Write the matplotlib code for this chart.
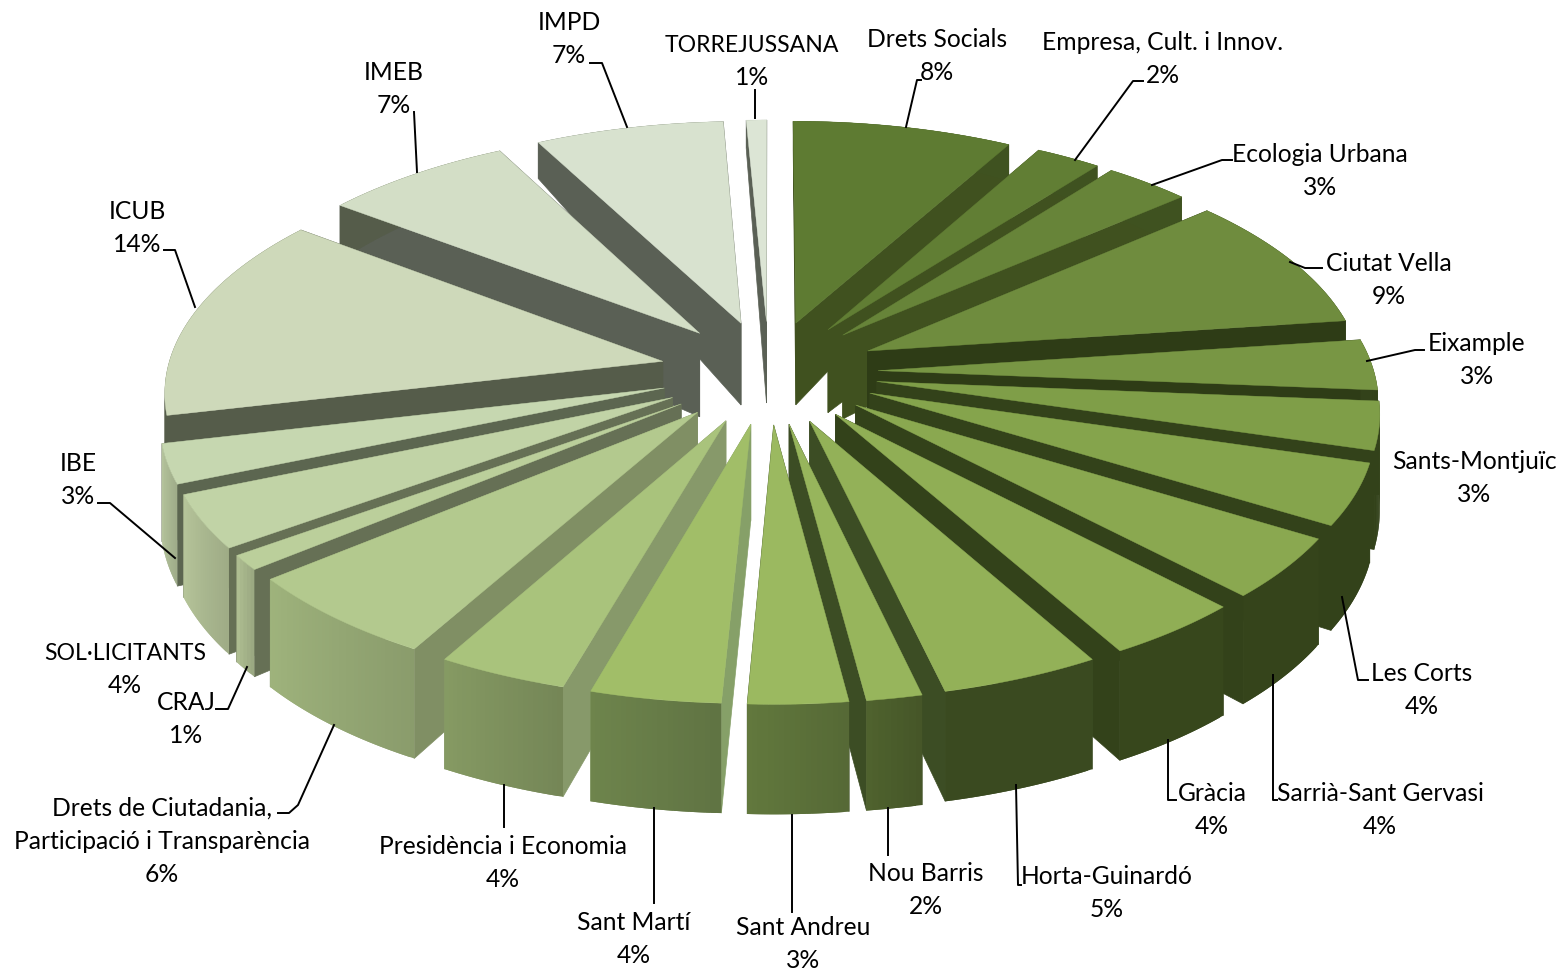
import matplotlib
matplotlib.use("Agg")
import matplotlib.pyplot as plt
import numpy as np
from matplotlib.patches import Polygon

names = ["Drets Socials", "Empresa, Cult. i Innov.", "Ecologia Urbana", "Ciutat Vella", "Eixample",
         "Sants-Montjuïc", "Les Corts", "Sarrià-Sant Gervasi", "Gràcia", "Horta-Guinardó", "Nou Barris",
         "Sant Andreu", "Sant Martí", "Presidència i Economia",
         "Drets de Ciutadania,\nParticipació i Transparència", "CRAJ", "SOL·LICITANTS", "IBE", "ICUB",
         "IMEB", "IMPD", "TORREJUSSANA"]
percent = [8, 2, 3, 9, 3, 3, 4, 4, 4, 5, 2, 3, 4, 4, 6, 1, 4, 3, 14, 7, 7, 1]
# unrounded shares
shares = [8.1, 2.4, 3.16, 9.21, 3.43, 3.25, 4.15, 4.14, 3.96, 4.54, 1.58, 2.83, 3.7, 3.7, 5.92, 1.01,
          3.62, 2.66, 13.94, 7.0, 6.95, 0.75]

top_colors = ["#5e7b32", "#617e34", "#678439", "#6f8c3e", "#789644", "#7f9e48", "#85a44c", "#8aa850",
              "#90ae55", "#93b158", "#97b55c", "#9bb960", "#a1be68", "#a9c37c", "#b3c98e", "#bbcf9b",
              "#c1d3a6", "#c6d7b0", "#ced9ba", "#d3dec6", "#d8e2cf", "#dce5d5"]
outer_colors = ["#3f5220", "#3f5220", "#3f5220", "#2e3c16", "#33421a", "#33421a", "#33421a", "#35441b",
                "#37471c", "#3a4a20", "#4a5c2b", "#5b7039", "#667b47", "#7c8f5c", "#93a673", "#a5b48a",
                "#a9b78f", "#aab893", "#555c4a", "#555c4a", "#5a6055", "#5a6055"]
side_colors = ["#40511f", "#40511f", "#40511f", "#2e3c16", "#2e3c16", "#33421a", "#33421a", "#33421a",
               "#33421a", "#3c4d24", "#3c4d24", "#3c4d24", "#86a068", "#87996a", "#808f64", "#667055",
               "#667055", "#5c6650", "#555c4a", "#5a6055", "#5a6055", "#5a6055"]

# centre of the label and height of its first line
label_pos = [(937, 38), (1163, 41), (1320, 153), (1389, 262), (1477, 342), (1474, 460), (1422, 672), (1380, 792),
             (1212, 792), (1107, 875), (926, 872), (803, 926), (634, 921), (503, 845), (162, 807), (186, 701),
             (125, 651), (78, 462), (137, 210), (394, 71), (569, 21), (752, 43)]
leaders = [[(906, 127), (917, 80), (921, 80)],
           [(1075, 160), (1133, 81), (1143, 81)],
           [(1152, 185), (1222, 160), (1232, 160)],
           [(1290, 262), (1305, 268), (1322, 268)],
           [(1367, 361), (1415, 350), (1424, 350)],
           [],
           [(1342, 597), (1358, 680), (1368, 680)],
           [(1273, 675), (1273, 800), (1277, 800)],
           [(1168, 740), (1168, 800), (1176, 800)],
           [(1016, 785), (1018, 885), (1021, 885)],
           [(888, 808), (888, 855)],
           [(792, 815), (792, 912)],
           [(654, 808), (654, 903)],
           [(504, 785), (504, 827)],
           [(334, 725), (298, 805), (289, 813), (278, 813)],
           [(247, 667), (228, 709), (216, 709)],
           [],
           [(175, 558), (110, 503), (98, 503)],
           [(195, 307), (175, 250), (164, 250)],
           [(417, 172), (414, 112)],
           [(627, 127), (602, 63), (590, 63)],
           [(755, 118), (755, 90)]]

# projection settings, all in pixels of the 1561x972 picture
cx, cy = 769, 372
rx, ry = 496, 235
persp = 0.1127
explode = 0.22
vmax = 1 + explode


def project(u, v):
    w = 1 + persp * v
    return cx + rx * u / w, cy - ry * v / w


def depth(v):
    # walls look much taller at the front than at the back
    return 110 - 82 * ((1 + v / vmax) / 2) ** 2


def shade(color, f):
    c = np.array(matplotlib.colors.to_rgb(color)) * f
    return tuple(np.clip(c, 0, 1))


fig = plt.figure(figsize=(15.61, 9.72), dpi=100)
ax = fig.add_axes([0, 0, 1, 1])
ax.set_xlim(0, 1561)
ax.set_ylim(972, 0)
ax.axis("off")

total = sum(shares)
edges = 90 - np.cumsum([0] + shares) * 360 / total
mids = (edges[:-1] + edges[1:]) / 2

# draw from the back to the front so nearer slices cover the others
for i in np.argsort(-np.sin(np.radians(mids))):
    a0, a1 = edges[i], edges[i + 1]
    ox = explode * np.cos(np.radians(mids[i]))
    oy = explode * np.sin(np.radians(mids[i]))
    t = np.radians(np.linspace(a0, a1, max(int(a0 - a1) * 2, 6)))
    us = ox + np.cos(t)
    vs = oy + np.sin(t)
    xs, ys = project(us, vs)
    ds = depth(vs)
    tx, ty = project(ox, oy)
    td = depth(oy)

    for j in (0, -1):
        ax.add_patch(Polygon([(tx, ty), (xs[j], ys[j]), (xs[j], ys[j] + ds[j]), (tx, ty + td)],
                             facecolor=side_colors[i], edgecolor=side_colors[i], linewidth=0.5))
    n = len(xs)
    order = np.argsort(xs)  # front walls are lighter on the left end, darker on the right
    for j in range(n - 1):
        f = 1.08 - 0.14 * np.where(order == j)[0][0] / (n - 1) if 10 <= i <= 17 else 1.0
        c = shade(outer_colors[i], f)
        k = min(j + 2, n - 1)  # overlap the next facet so no seams show
        ax.add_patch(Polygon([(xs[j], ys[j]), (xs[k], ys[k]), (xs[k], ys[k] + ds[k]), (xs[j], ys[j] + ds[j])],
                             facecolor=c, edgecolor="none"))
    ax.add_patch(Polygon(list(zip(np.r_[tx, xs], np.r_[ty, ys])),
                         facecolor=top_colors[i], edgecolor=top_colors[i], linewidth=0.3))

for i, name in enumerate(names):
    lines = name.split("\n") + [f"{percent[i]}%"]
    for k, line in enumerate(lines):
        size = 16.6 if line.isupper() and len(line) > 5 else 17.7
        ax.text(label_pos[i][0], label_pos[i][1] + 9 + 33 * k, line, ha="center", va="baseline",
                family="Lato", fontsize=size, color="black")
    if leaders[i]:
        pts = np.array(leaders[i])
        ax.plot(pts[:, 0], pts[:, 1], color="black", linewidth=1.4)

fig.savefig("out.png", dpi=100)
